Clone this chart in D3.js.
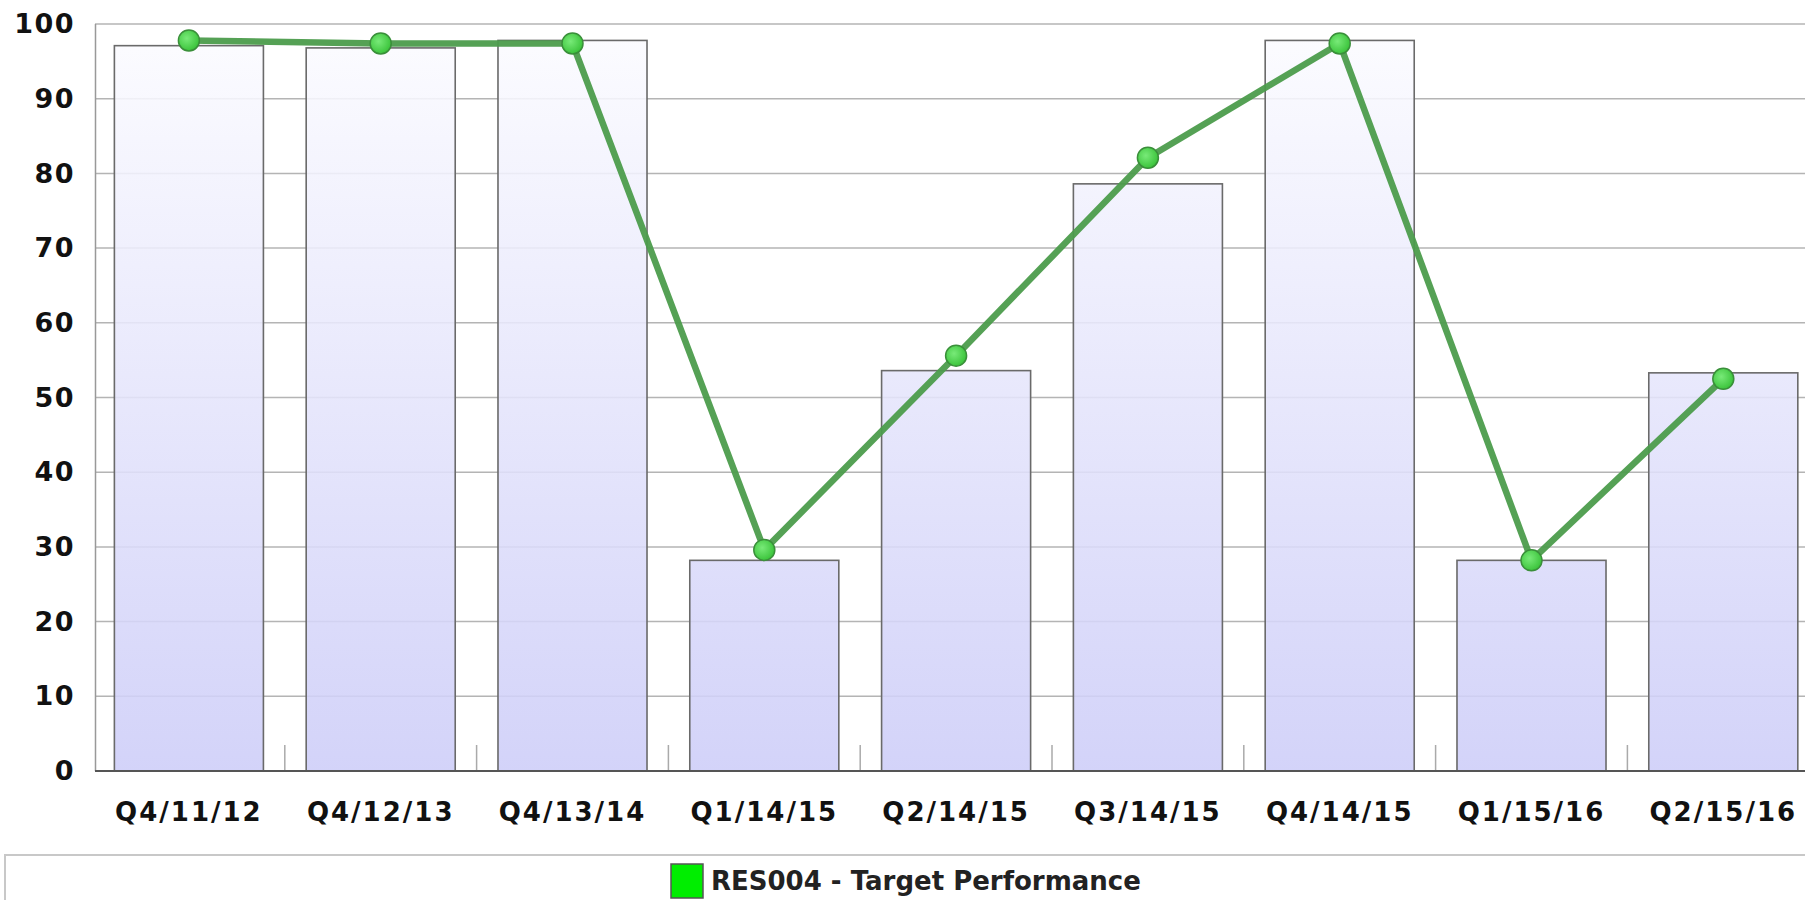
<!DOCTYPE html>
<html>
<head>
<meta charset="utf-8">
<script src="https://cdn.jsdelivr.net/npm/d3@7"></script>
<style>
  body { margin: 0; background: #fff; }
  svg { display: block; font-family: "DejaVu Sans", Verdana, sans-serif; }
</style>
</head>
<body>
<div id="chart"></div>
<script>
// Data
const categories = ["Q4/11/12", "Q4/12/13", "Q4/13/14", "Q1/14/15", "Q2/14/15",
                    "Q3/14/15", "Q4/14/15", "Q1/15/16", "Q2/15/16"];
const barValues  = [97.1, 96.8, 97.8, 28.2, 53.6, 78.6, 97.8, 28.2, 53.3];
const lineValues = [97.8, 97.4, 97.4, 29.6, 55.6, 82.1, 97.4, 28.2, 52.5];
const yTicks = [0, 10, 20, 30, 40, 50, 60, 70, 80, 90, 100];
const legendLabel = "RES004 - Target Performance";

// SVG dimensions
const svgWidth = 1805;
const svgHeight = 900;

const svg = d3.select("#chart")
  .append("svg")
  .attr("width", svgWidth)
  .attr("height", svgHeight);

// Scales (plot is cut off on the right, like the original)
const x = d3.scaleBand()
  .domain(categories)
  .range([93, 93 + 9 * 191.8])
  .padding(0);

const y = d3.scaleLinear()
  .domain([0, 100])
  .range([771, 24]);

const barW = x.bandwidth() * 0.777;

// gradient for bars, spread over the whole plot height
const defs = svg.append("defs");
const grad = defs.append("linearGradient")
  .attr("id", "barGrad")
  .attr("gradientUnits", "userSpaceOnUse")
  .attr("x1", 0).attr("y1", y(100)).attr("x2", 0).attr("y2", y(0));
grad.append("stop").attr("offset", "0%").attr("stop-color", "#fcfcff");
grad.append("stop").attr("offset", "100%").attr("stop-color", "#cdcdf8");

const dotGrad = defs.append("radialGradient")
  .attr("id", "dotGrad")
  .attr("cx", "40%").attr("cy", "40%").attr("r", "60%");
dotGrad.append("stop").attr("offset", "0%").attr("stop-color", "#78ea78");
dotGrad.append("stop").attr("offset", "100%").attr("stop-color", "#3cc43c");

// gridlines
svg.append("g")
  .selectAll("line")
  .data(yTicks.filter(d => d > 0))
  .join("line")
  .attr("x1", 95)
  .attr("x2", svgWidth)
  .attr("y1", d => y(d))
  .attr("y2", d => y(d))
  .attr("stroke", "#b4b4b4")
  .attr("stroke-width", 1.5);

// left axis line
svg.append("line")
  .attr("x1", 95.5).attr("x2", 95.5)
  .attr("y1", y(100)).attr("y2", y(0))
  .attr("stroke", "#999")
  .attr("stroke-width", 1.5);

// small ticks between categories
svg.append("g")
  .selectAll("line")
  .data(categories.slice(1))
  .join("line")
  .attr("x1", d => x(d))
  .attr("x2", d => x(d))
  .attr("y1", y(0))
  .attr("y2", y(0) - 26)
  .attr("stroke", "#aaa")
  .attr("stroke-width", 1.5);

// bars
svg.append("g")
  .selectAll("rect")
  .data(barValues)
  .join("rect")
  .attr("x", (d, i) => x(categories[i]) + (x.bandwidth() - barW) / 2)
  .attr("y", d => y(d))
  .attr("width", barW)
  .attr("height", d => y(0) - y(d))
  .attr("fill", "url(#barGrad)")
  .attr("fill-opacity", 0.88)
  .attr("stroke", "#6a6a6a")
  .attr("stroke-width", 1.6);

// baseline
svg.append("line")
  .attr("x1", 95).attr("x2", svgWidth)
  .attr("y1", y(0)).attr("y2", y(0))
  .attr("stroke", "#555")
  .attr("stroke-width", 2);

// y axis labels
const yAxis = svg.append("g")
  .attr("transform", "translate(95,0)")
  .call(d3.axisLeft(y).tickValues(yTicks).tickSize(0).tickPadding(20));
yAxis.select(".domain").remove();
yAxis.selectAll("text")
  .attr("font-family", "'DejaVu Sans', Verdana, sans-serif")
  .attr("font-size", 27)
  .attr("font-weight", "bold")
  .attr("letter-spacing", 1.5)
  .attr("fill", "#111");

// x axis labels
const xAxis = svg.append("g")
  .attr("transform", `translate(0,${y(0)})`)
  .call(d3.axisBottom(x).tickSize(0));
xAxis.select(".domain").remove();
xAxis.selectAll("text")
  .attr("y", 41)
  .attr("dy", "0.35em")
  .attr("font-family", "'DejaVu Sans', Verdana, sans-serif")
  .attr("font-size", 26)
  .attr("font-weight", "bold")
  .attr("letter-spacing", 2)
  .attr("fill", "#111");

// line series
const lineGen = d3.line()
  .x((d, i) => x(categories[i]) + x.bandwidth() / 2)
  .y(d => y(d));

svg.append("path")
  .datum(lineValues)
  .attr("d", lineGen)
  .attr("fill", "none")
  .attr("stroke", "#4c9c4c")
  .attr("stroke-width", 6.5)
  .attr("stroke-opacity", 0.95)
  .attr("stroke-linejoin", "round");

svg.append("g")
  .selectAll("circle")
  .data(lineValues)
  .join("circle")
  .attr("cx", (d, i) => x(categories[i]) + x.bandwidth() / 2)
  .attr("cy", d => y(d))
  .attr("r", 10.5)
  .attr("fill", "url(#dotGrad)")
  .attr("stroke", "#3a8f3a")
  .attr("stroke-width", 1.5);

// legend
svg.append("rect")
  .attr("x", 5)
  .attr("y", 855)
  .attr("width", svgWidth + 20)
  .attr("height", 80)
  .attr("fill", "#fff")
  .attr("stroke", "#c8c8c8")
  .attr("stroke-width", 2);

svg.append("rect")
  .attr("x", 671)
  .attr("y", 864)
  .attr("width", 32)
  .attr("height", 34)
  .attr("fill", "#00ee00")
  .attr("stroke", "#555")
  .attr("stroke-width", 1.5);

svg.append("text")
  .attr("x", 711)
  .attr("y", 881)
  .attr("dy", "0.35em")
  .attr("font-size", 26)
  .attr("font-weight", "bold")
  .attr("fill", "#222")
  .text(legendLabel);
</script>
</body>
</html>
